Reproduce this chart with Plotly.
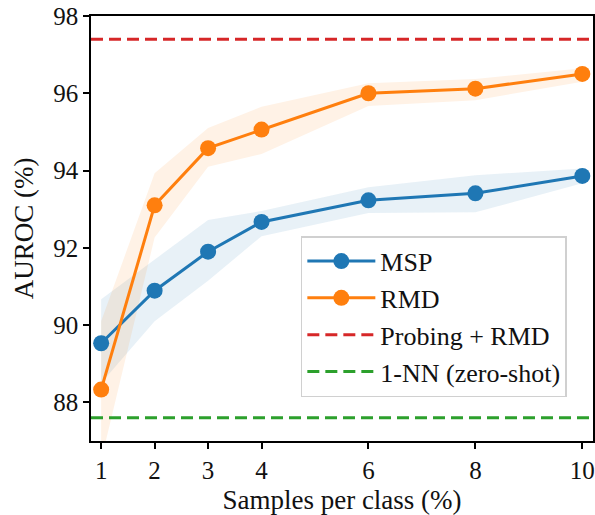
import plotly.graph_objects as go

samples = [1, 2, 3, 4, 6, 8, 10]
msp = [89.53, 90.89, 91.90, 92.67, 93.23, 93.41, 93.86]
msp_lo = [88.5, 90.10, 91.15, 92.30, 92.90, 92.92, 93.67]
msp_hi = [90.67, 91.70, 92.72, 92.95, 93.57, 93.88, 94.05]
rmd = [88.33, 93.10, 94.58, 95.06, 96.00, 96.12, 96.50]
rmd_lo = [86.5, 92.27, 94.10, 94.43, 95.67, 95.82, 96.30]
rmd_hi = [90.1, 93.93, 95.10, 95.65, 96.26, 96.37, 96.65]
probing_rmd = 97.4
nn_zero_shot = 87.6

x_range = [0.81, 10.2]
y_range = [87, 98]

blue = "#1f77b4"
orange = "#ff7f0e"
red = "#d62728"
green = "#2ca02c"
font = "Liberation Serif"

fig = go.Figure()

# bands
fig.add_trace(go.Scatter(x=samples + samples[::-1], y=msp_hi + msp_lo[::-1],
                         mode="lines", fill="toself", fillcolor="rgba(31,119,180,0.1)",
                         line=dict(width=0), hoverinfo="skip", showlegend=False))
fig.add_trace(go.Scatter(x=samples + samples[::-1], y=rmd_hi + rmd_lo[::-1],
                         mode="lines", fill="toself", fillcolor="rgba(255,127,14,0.1)",
                         line=dict(width=0), hoverinfo="skip", showlegend=False))

fig.add_trace(go.Scatter(x=samples, y=msp, mode="lines+markers", name="MSP",
                         line=dict(color=blue, width=3),
                         marker=dict(color=blue, size=16)))
fig.add_trace(go.Scatter(x=samples, y=rmd, mode="lines+markers", name="RMD",
                         line=dict(color=orange, width=3),
                         marker=dict(color=orange, size=16)))
fig.add_trace(go.Scatter(x=x_range, y=[probing_rmd, probing_rmd], mode="lines",
                         name="Probing + RMD",
                         line=dict(color=red, width=3, dash="12px,6px")))
fig.add_trace(go.Scatter(x=x_range, y=[nn_zero_shot, nn_zero_shot], mode="lines",
                         name="1-NN (zero-shot)",
                         line=dict(color=green, width=3, dash="12px,6px")))

axis_common = dict(showline=True, linecolor="black", linewidth=1.5, mirror=True,
                   ticks="outside", ticklen=6, tickwidth=1.5, tickcolor="black",
                   showgrid=False, zeroline=False, ticklabeloverflow="allow",
                   automargin=False,
                   tickfont=dict(family=font, size=25, color="#111"))

fig.update_xaxes(range=x_range, tickvals=[1, 2, 3, 4, 6, 8, 10],
                 title=dict(text="Samples per class (%)", font=dict(family=font, size=27, color="#111"),
                            standoff=8),
                 **axis_common)
fig.update_yaxes(range=y_range, tickvals=[88, 90, 92, 94, 96, 98],
                 title=dict(text="AUROC (%)", font=dict(family=font, size=27, color="#111"),
                            standoff=12),
                 **axis_common)

fig.update_layout(
    width=595, height=515,
    margin=dict(l=91, r=2, t=16, b=74),
    plot_bgcolor="white", paper_bgcolor="white",
    font=dict(family=font),
    showlegend=True,
    legend=dict(x=0.418, y=0.482, xanchor="left", yanchor="top",
                bgcolor="rgba(255,255,255,0.9)", bordercolor="#d0d0d0", borderwidth=1.5,
                font=dict(family=font, size=26, color="#111"),
                itemwidth=68, tracegroupgap=0),
)

fig.write_html("out.html", config={"displayModeBar": False},
               post_script="document.body.style.margin='0';")
